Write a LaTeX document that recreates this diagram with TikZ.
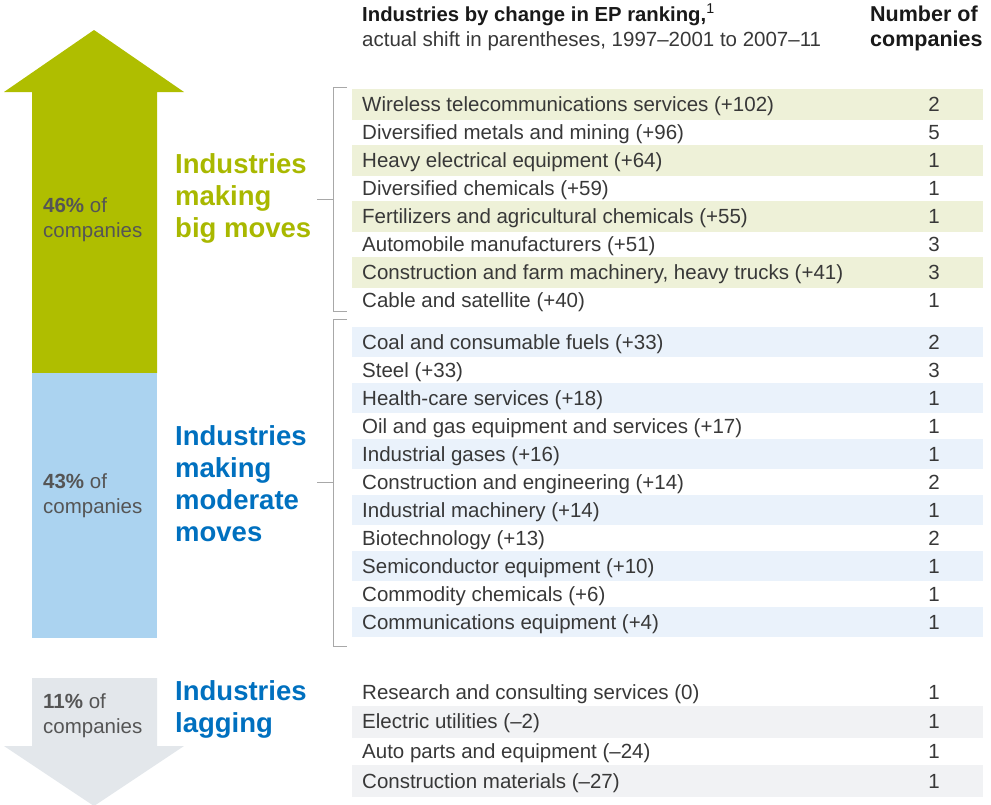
\documentclass[tikz,border=0pt]{standalone}
\usepackage{fontspec}
\setmainfont{Liberation Sans}
\definecolor{arrowgreen}{HTML}{AFBE00}
\definecolor{labelgreen}{HTML}{A9B800}
\definecolor{arrowblue}{HTML}{ABD3F0}
\definecolor{labelblue}{HTML}{0070BF}
\definecolor{arrowgray}{HTML}{E3E7EB}
\definecolor{shadegreen}{HTML}{EEF1D8}
\definecolor{shadeblue}{HTML}{EAF2FB}
\definecolor{shadegray}{HTML}{F1F2F4}
\definecolor{textdark}{HTML}{383838}
\definecolor{pctgray}{HTML}{555555}
\definecolor{bracketgray}{HTML}{A8A8A8}
\begin{document}
\begin{tikzpicture}[x=1pt,y=-1pt,
  rowtext/.style={anchor=base west, inner sep=0pt, font=\fontsize{20.5}{24}\selectfont, text=textdark},
  rownum/.style={anchor=base, inner sep=0pt, font=\fontsize{20.5}{24}\selectfont, text=textdark},
  hdrbold/.style={anchor=base west, inner sep=0pt, font=\fontsize{20.3}{24}\bfseries\selectfont, text=black!90},
  hdrcol/.style={anchor=base west, inner sep=0pt, font=\fontsize{21.5}{24}\bfseries\selectfont, text=black!90},
  hdrtext/.style={anchor=base west, inner sep=0pt, font=\fontsize{20.5}{24}\selectfont, text=textdark},
  biglabel/.style={anchor=base west, inner sep=0pt, font=\fontsize{27.5}{32}\bfseries\selectfont},
  pct/.style={anchor=base west, inner sep=0pt, font=\fontsize{20.5}{24}\selectfont, text=pctgray},
  bracketline/.style={draw=bracketgray, line width=1pt}]
\useasboundingbox (0,0) rectangle (991,804);

% arrows
\fill[arrowgreen] (32,373) -- (32,92) -- (4,92) -- (94,30) -- (184,92) -- (157,92) -- (157,373) -- cycle;
\fill[arrowblue] (32,373) rectangle (157,638);
\fill[arrowgray] (32,678) -- (157,678) -- (157,746) -- (184,746) -- (94,806) -- (4,746) -- (32,746) -- cycle;

% percentages
\node[pct] (p1a) at (43,212) {\textbf{46\%} of};
\node[pct] (p1b) at (43,237) {companies};
\node[pct] (p2a) at (43,488) {\textbf{43\%} of};
\node[pct] (p2b) at (43,513) {companies};
\node[pct] (p3a) at (43,708) {\textbf{11\%} of};
\node[pct] (p3b) at (43,733) {companies};

% group labels
\node[biglabel, text=labelgreen] (g1) at (175,173.5) {Industries};
\node[biglabel, text=labelgreen] (g2) at (175,205.5) {making};
\node[biglabel, text=labelgreen] (g3) at (175,237.5) {big moves};
\node[biglabel, text=labelblue] (b1) at (175,445.5) {Industries};
\node[biglabel, text=labelblue] (b2) at (175,477.5) {making};
\node[biglabel, text=labelblue] (b3) at (175,509.5) {moderate};
\node[biglabel, text=labelblue] (b4) at (175,541.5) {moves};
\node[biglabel, text=labelblue] (l1) at (175,700.5) {Industries};
\node[biglabel, text=labelblue] (l2) at (175,732.5) {lagging};

% header
\node[hdrbold] (h1) at (362,21) {Industries by change in EP ranking,\textsuperscript{\normalfont 1}};
\node[hdrtext] (h2) at (362,46) {actual shift in parentheses, 1997–2001 to 2007–11};
\node[hdrcol] (h3) at (870,21) {Number of};
\node[hdrcol] (h4) at (870,46) {companies};

% big moves rows
\foreach \t/\n [count=\i] in {
  {Wireless telecommunications services (+102)}/2,
  {Diversified metals and mining (+96)}/5,
  {Heavy electrical equipment (+64)}/1,
  {Diversified chemicals (+59)}/1,
  {Fertilizers and agricultural chemicals (+55)}/1,
  {Automobile manufacturers (+51)}/3,
  {Construction and farm machinery, heavy trucks (+41)}/3,
  {Cable and satellite (+40)}/1}{
  \pgfmathsetmacro\c{104.5+28*(\i-1)}
  \ifodd\i \fill[shadegreen] (352,\c-15.5) rectangle (983,\c+15.5); \fi
  \node[rowtext] (gt\i) at (362,\c+7.2) {\t};
  \node[rownum] (gn\i) at (934,\c+7.2) {\n};
}

% moderate rows
\foreach \t/\n [count=\i] in {
  {Coal and consumable fuels (+33)}/2,
  {Steel (+33)}/3,
  {Health-care services (+18)}/1,
  {Oil and gas equipment and services (+17)}/1,
  {Industrial gases (+16)}/1,
  {Construction and engineering (+14)}/2,
  {Industrial machinery (+14)}/1,
  {Biotechnology (+13)}/2,
  {Semiconductor equipment (+10)}/1,
  {Commodity chemicals (+6)}/1,
  {Communications equipment (+4)}/1}{
  \pgfmathsetmacro\c{342+28*(\i-1)}
  \ifodd\i \fill[shadeblue] (352,\c-15.2) rectangle (983,\c+15.2); \fi
  \node[rowtext] (mt\i) at (362,\c+7.2) {\t};
  \node[rownum] (mn\i) at (934,\c+7.2) {\n};
}

% lagging rows
\foreach \t/\n [count=\i] in {
  {Research and consulting services (0)}/1,
  {Electric utilities (–2)}/1,
  {Auto parts and equipment (–24)}/1,
  {Construction materials (–27)}/1}{
  \pgfmathsetmacro\c{692+29.7*(\i-1)}
  \ifodd\i \else \fill[shadegray] (352,\c-16) rectangle (983,\c+16); \fi
  \node[rowtext] (lt\i) at (362,\c+7.2) {\t};
  \node[rownum] (ln\i) at (934,\c+7.2) {\n};
}

% brackets
\coordinate (k1t) at (347,87);
\coordinate (k1b) at (347,311);
\coordinate (k2t) at (347,319);
\coordinate (k2b) at (347,646);
\draw[bracketline] (k1t) -- (333,87) -- (333,311) -- (k1b);
\draw[bracketline] (317,199) -- (333,199);
\draw[bracketline] (k2t) -- (333,319) -- (333,646) -- (k2b);
\draw[bracketline] (317,482.5) -- (333,482.5);
\end{tikzpicture}
\end{document}
